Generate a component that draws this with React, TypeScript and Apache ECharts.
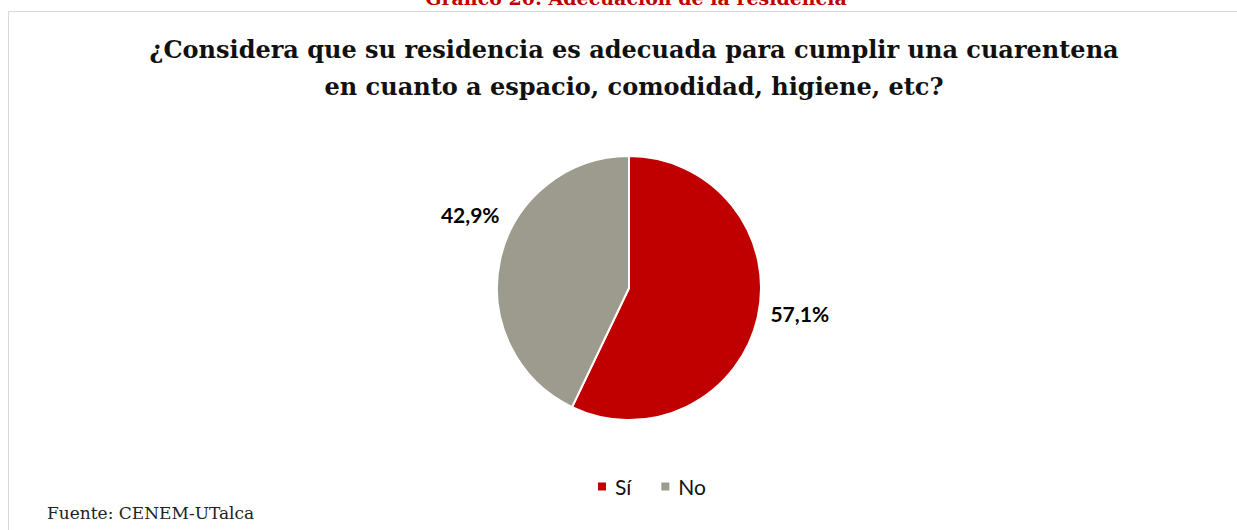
import React, { useEffect, useRef } from "react";
import * as echarts from "echarts";

const categories = ["Sí", "No"];
const values = [57.1, 42.9];
const colors = ["#C00000", "#9C9B8D"];
const labelOffsets = [
  [-12, -6],
  [24, -42],
];

export default function App() {
  const ref = useRef<HTMLDivElement>(null);
  useEffect(() => {
    const chart = echarts.init(ref.current!, null, { renderer: "svg" });
    chart.setOption({
      animation: false,
      backgroundColor: "#ffffff",
      title: {
        text: "¿Considera que su residencia es adecuada para cumplir una cuarentena\nen cuanto a espacio, comodidad, higiene, etc?",
        left: 629,
        textAlign: "center",
        top: 26,
        textStyle: {
          fontFamily: "DejaVu Serif",
          fontWeight: "bold",
          fontSize: 24,
          lineHeight: 37,
          color: "#111111",
        },
      },
      legend: {
        data: categories,
        bottom: 28,
        left: 591,
        itemWidth: 10,
        itemHeight: 10,
        itemGap: 28,
        icon: "rect",
        textStyle: { fontFamily: "Lato", fontSize: 21, color: "#111111", padding: [0, 0, 0, 3] },
      },
      graphic: [
        {
          type: "rect",
          shape: { x: 8.5, y: 11.5, width: 1300, height: 600 },
          style: { fill: "none", stroke: "#d9d9d9", lineWidth: 1 },
          silent: true,
        },
        {
          type: "text",
          x: 636,
          y: 7,
          style: {
            text: "Gráfico 20: Adecuación de la residencia",
            fill: "#C00000",
            font: "bold 19px 'DejaVu Serif'",
            align: "center",
            verticalAlign: "bottom",
          },
        },
        {
          type: "text",
          x: 47,
          y: 513,
          style: {
            text: "Fuente: CENEM-UTalca",
            fill: "#222222",
            font: "17px 'DejaVu Serif'",
            align: "left",
            verticalAlign: "middle",
          },
        },
      ],
      series: [
        {
          type: "pie",
          center: [629, 288],
          radius: 132,
          startAngle: 90,
          clockwise: true,
          itemStyle: { borderColor: "#ffffff", borderWidth: 2 },
          label: {
            show: true,
            position: "outside",
            formatter: (p: any) => p.value.toFixed(1).replace(".", ",") + "%",
            fontFamily: "Lato",
            fontWeight: "bold",
            fontSize: 21,
            color: "#000000",
          },
          labelLine: { show: false, length: 12, length2: 8 },
          data: categories.map((c, i) => ({
            name: c,
            value: values[i],
            itemStyle: { color: colors[i] },
            label: { offset: labelOffsets[i] },
          })),
        },
      ],
    });
    return () => chart.dispose();
  }, []);
  return (
    <div
      ref={ref}
      style={{ position: "fixed", left: 0, top: 0, width: 1237, height: 530 }}
    />
  );
}
